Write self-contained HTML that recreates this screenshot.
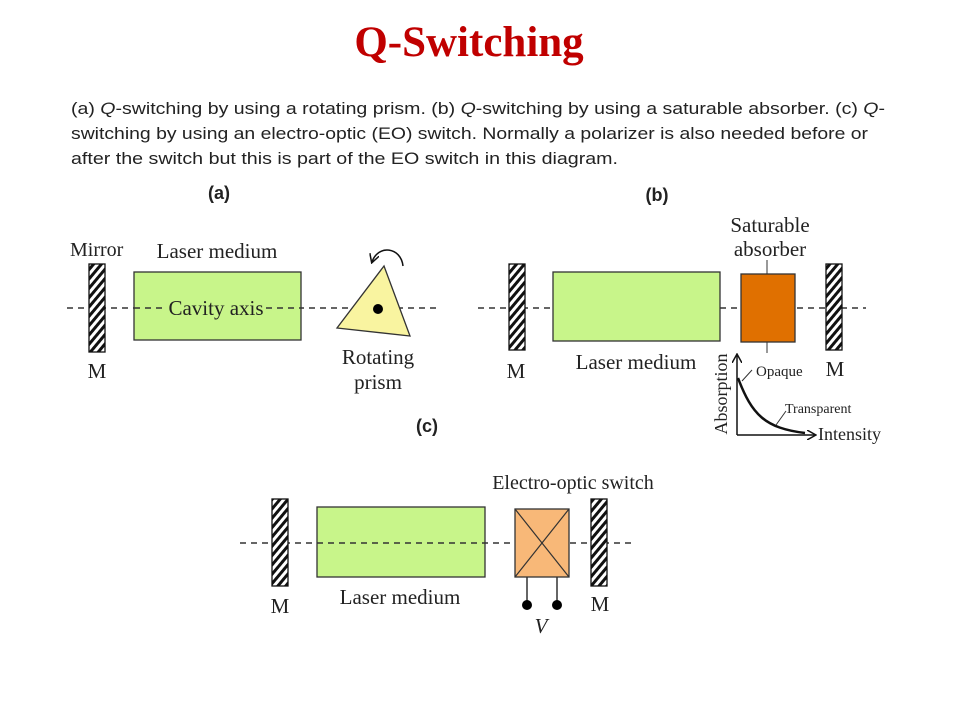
<!DOCTYPE html>
<html><head><meta charset="utf-8"><style>
html,body{margin:0;padding:0;background:#fff;}
svg{display:block;}
.s{font-family:"Liberation Serif",serif;fill:#222;}
</style></head><body>
<svg width="960" height="720" viewBox="0 0 960 720" xmlns="http://www.w3.org/2000/svg">
<defs>
<pattern id="h" patternUnits="userSpaceOnUse" width="6" height="6" patternTransform="rotate(40)">
<rect width="6" height="6" fill="#fff"/><rect width="3" height="6" fill="#111"/>
</pattern>
<marker id="ar" markerWidth="10" markerHeight="10" refX="8" refY="5" orient="auto" markerUnits="userSpaceOnUse">
<path d="M0,0 L9,5 L0,10" fill="none" stroke="#111" stroke-width="1.5"/>
</marker>
</defs>
<text x="469" y="56" text-anchor="middle" font-family="Liberation Serif,serif" font-weight="bold" font-size="43" fill="#c00000">Q-Switching</text>
<g font-family="Liberation Sans,sans-serif" font-size="17" fill="#222">
<text x="71" y="114" textLength="814" lengthAdjust="spacingAndGlyphs">(a) <tspan font-style="italic">Q</tspan>-switching by using a rotating prism. (b) <tspan font-style="italic">Q</tspan>-switching by using a saturable absorber. (c) <tspan font-style="italic">Q</tspan>-</text>
<text x="71" y="139" textLength="797" lengthAdjust="spacingAndGlyphs">switching by using an electro-optic (EO) switch. Normally a polarizer is also needed before or</text>
<text x="71" y="164" textLength="547" lengthAdjust="spacingAndGlyphs">after the switch but this is part of the EO switch in this diagram.</text>
</g>
<g font-family="Liberation Sans,sans-serif" font-weight="bold" font-size="18" fill="#222">
<text x="219" y="199" text-anchor="middle">(a)</text>
<text x="657" y="201" text-anchor="middle">(b)</text>
<text x="427" y="432" text-anchor="middle">(c)</text>
</g>
<g stroke="#333" stroke-width="1.5" stroke-dasharray="6,5" fill="none">
<line x1="67" y1="308" x2="437" y2="308"/>
<line x1="478" y1="308" x2="866" y2="308"/>
<line x1="240" y1="543" x2="632" y2="543"/>
</g>
<!-- (a) -->
<rect x="89" y="264" width="16" height="88" fill="url(#h)" stroke="#111" stroke-width="1.3"/>
<rect x="134" y="272" width="167" height="68" fill="#c8f58a" stroke="#333" stroke-width="1.3"/>
<line x1="134" y1="308" x2="301" y2="308" stroke="#333" stroke-width="1.5" stroke-dasharray="6,5"/>
<rect x="166" y="296" width="98" height="24" fill="#c8f58a"/>
<text class="s" x="216" y="315" text-anchor="middle" font-size="21">Cavity axis</text>
<text class="s" x="70" y="256" font-size="20">Mirror</text>
<text class="s" x="217" y="258" text-anchor="middle" font-size="21">Laser medium</text>
<text class="s" x="97" y="378" text-anchor="middle" font-size="21">M</text>
<polygon points="384,266 337,328 410,336" fill="#f9f4a0" stroke="#333" stroke-width="1.3"/>
<circle cx="378" cy="309" r="5" fill="#000"/>
<path d="M403,266 C401,247 378,244 372,262" fill="none" stroke="#111" stroke-width="1.5" marker-end="url(#ar)"/>
<text class="s" x="378" y="364" text-anchor="middle" font-size="21">Rotating</text>
<text class="s" x="378" y="389" text-anchor="middle" font-size="21">prism</text>
<!-- (b) -->
<rect x="509" y="264" width="16" height="86" fill="url(#h)" stroke="#111" stroke-width="1.3"/>
<rect x="553" y="272" width="167" height="69" fill="#c8f58a" stroke="#333" stroke-width="1.3"/>
<rect x="741" y="274" width="54" height="68" fill="#e07000" stroke="#333" stroke-width="1.3"/>
<rect x="826" y="264" width="16" height="86" fill="url(#h)" stroke="#111" stroke-width="1.3"/>
<line x1="767" y1="260" x2="767" y2="274" stroke="#333"/>
<line x1="767" y1="342" x2="767" y2="353" stroke="#333"/>
<text class="s" x="770" y="232" text-anchor="middle" font-size="21">Saturable</text>
<text class="s" x="770" y="256" text-anchor="middle" font-size="21">absorber</text>
<text class="s" x="516" y="378" text-anchor="middle" font-size="21">M</text>
<text class="s" x="835" y="376" text-anchor="middle" font-size="21">M</text>
<text class="s" x="636" y="369" text-anchor="middle" font-size="21">Laser medium</text>
<line x1="737" y1="435" x2="737" y2="355" stroke="#111" stroke-width="1.5" marker-end="url(#ar)"/>
<line x1="737" y1="435" x2="815" y2="435" stroke="#111" stroke-width="1.5" marker-end="url(#ar)"/>
<path d="M738,378 C752,415 765,428 805,433" fill="none" stroke="#111" stroke-width="2.5"/>
<line x1="742" y1="381" x2="752" y2="370" stroke="#333"/>
<line x1="776" y1="425" x2="786" y2="411" stroke="#333"/>
<text class="s" x="756" y="376" font-size="15">Opaque</text>
<text class="s" x="785" y="413" font-size="14">Transparent</text>
<text class="s" x="818" y="440" font-size="18">Intensity</text>
<text class="s" transform="translate(727,394) rotate(-90)" text-anchor="middle" font-size="18">Absorption</text>
<!-- (c) -->
<rect x="272" y="499" width="16" height="87" fill="url(#h)" stroke="#111" stroke-width="1.3"/>
<rect x="317" y="507" width="168" height="70" fill="#c8f58a" stroke="#333" stroke-width="1.3"/>
<line x1="317" y1="543" x2="485" y2="543" stroke="#333" stroke-width="1.5" stroke-dasharray="6,5"/>
<rect x="515" y="509" width="54" height="68" fill="#f8b878" stroke="#333" stroke-width="1.3"/>
<line x1="515" y1="509" x2="569" y2="577" stroke="#333" stroke-width="1.2"/>
<line x1="569" y1="509" x2="515" y2="577" stroke="#333" stroke-width="1.2"/>
<rect x="591" y="499" width="16" height="87" fill="url(#h)" stroke="#111" stroke-width="1.3"/>
<line x1="527" y1="577" x2="527" y2="605" stroke="#333" stroke-width="1.5"/>
<line x1="557" y1="577" x2="557" y2="605" stroke="#333" stroke-width="1.5"/>
<circle cx="527" cy="605" r="5" fill="#000"/>
<circle cx="557" cy="605" r="5" fill="#000"/>
<text class="s" x="541" y="633" text-anchor="middle" font-size="21" font-style="italic">V</text>
<text class="s" x="280" y="613" text-anchor="middle" font-size="21">M</text>
<text class="s" x="600" y="611" text-anchor="middle" font-size="21">M</text>
<text class="s" x="400" y="604" text-anchor="middle" font-size="21">Laser medium</text>
<text class="s" x="573" y="489" text-anchor="middle" font-size="20">Electro-optic switch</text>
</svg>
</body></html>
